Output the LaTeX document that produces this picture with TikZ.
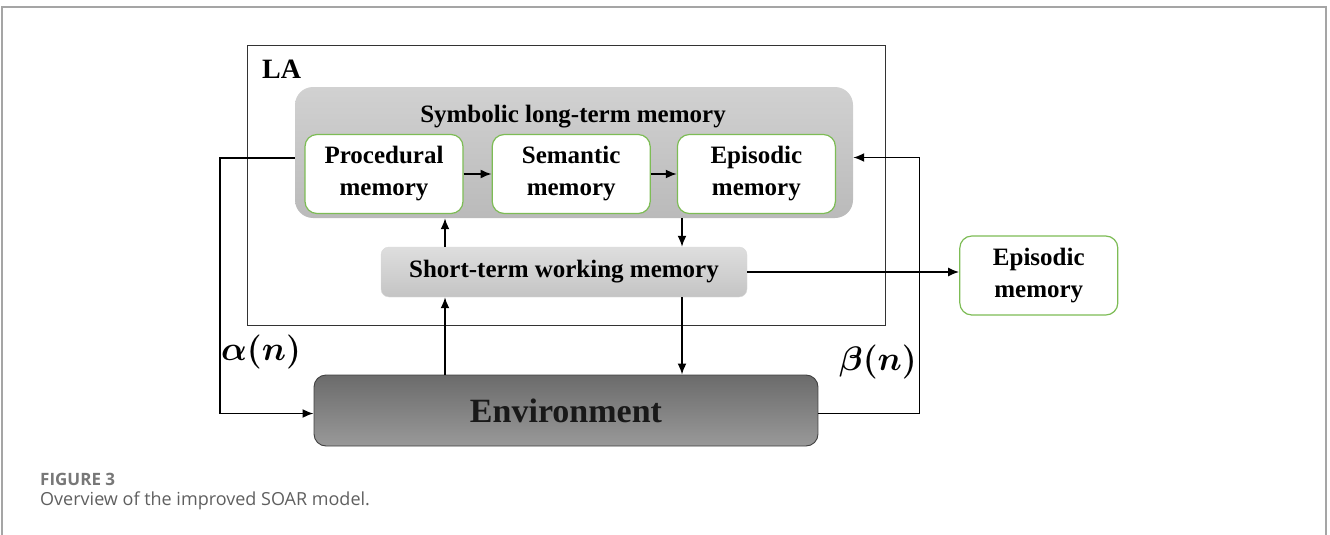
\RequirePackage{fix-cm}
\documentclass[tikz,border=0pt]{standalone}
\usepackage{amsmath,bm}
\usepackage{fontspec}
\setmainfont{Liberation Serif}
\newfontfamily\captionfont{Open Sans}
\usepackage{xcolor}
\usetikzlibrary{positioning, arrows.meta}

\definecolor{boxgreen}{RGB}{125,188,85}
\definecolor{framegray}{RGB}{165,165,165}
\definecolor{captiongray}{RGB}{95,95,95}

\begin{document}
\begin{tikzpicture}[x=1pt, y=-1pt]
            % Block styles
            \tikzstyle{mem} = [rectangle, rounded corners=12pt, draw=boxgreen, line width=1.2pt, fill=white, align=center, minimum width=158pt, minimum height=79pt, font=\fontsize{25}{32}\selectfont\bfseries]
            \tikzstyle{store} = [rectangle, rounded corners=18pt, top color=black!18, bottom color=black!27, minimum width=558pt, minimum height=131pt]
            \tikzstyle{wm} = [rectangle, rounded corners=8pt, draw=black!15, top color=black!13, bottom color=black!23, minimum width=366pt, minimum height=50pt, font=\fontsize{25}{28}\selectfont\bfseries]
            \tikzstyle{env_block} = [rectangle, rounded corners=12pt, draw=black!75, line width=0.9pt, top color=black!58, bottom color=black!40, minimum width=504pt, minimum height=71pt, font=\fontsize{34}{40}\selectfont\bfseries, text=black!90]
            \tikzstyle{line} = [draw, line width=1.8pt, -{Latex[length=11pt,width=9pt]}]
            \useasboundingbox (0,0) rectangle (1330,535);
            % Page frame
            \draw[framegray, line width=1.2pt] (2,535) -- (2,7) -- (1326,7) -- (1326,535);
            % LA frame
            \node[draw=black!80, line width=0.9pt, minimum width=638pt, minimum height=280pt, anchor=north west] (la) at (247,45) {};
            \node[anchor=north west, font=\fontsize{28}{30}\selectfont\bfseries, inner sep=0pt] (la_label) at (262,60) {LA};
            % Long-term memory
            \node[store] (ltm) at (574,152.5) {};
            \node[font=\fontsize{25}{28}\selectfont\bfseries] (ltm_title) at (573,117) {Symbolic long-term memory};
            \node[mem] (proc) at (384,174) {Procedural\\memory};
            \node[mem, right=28pt of proc] (sem) {Semantic\\memory};
            \node[mem, right=26pt of sem] (epi) {Episodic\\memory};
            % Working memory and outputs
            \node[wm] (stwm) at (564,272) {Short-term working memory};
            \node[mem, right=212pt of stwm, yshift=-3.5pt] (epi_ext) {Episodic\\memory};
            \node[env_block] (env) at (566,410.5) {Environment};
            \coordinate (up_x) at (445,0);
            \coordinate (down_x) at (682,0);
            % Connections
            \draw[line] (proc) -- (sem);
            \draw[line] (sem) -- (epi);
            \draw[line] (stwm.north -| up_x) -- (ltm.south -| up_x);
            \draw[line] (ltm.south -| down_x) -- (stwm.north -| down_x);
            \draw[line] (env.north -| up_x) -- (stwm.south -| up_x);
            \draw[line] (stwm.south -| down_x) -- (env.north -| down_x);
            \draw[line] (stwm.east) -- (stwm.east -| epi_ext.west);

            \draw[line] ([yshift=-5.5pt]ltm.west) -- ++(-75,0) coordinate (alpha_turn) |- ([yshift=-3pt]env.west);
            \draw[line] ([yshift=-3pt]env.east) -- ++(101,0) coordinate (beta_turn) |- ([yshift=-5pt]ltm.east);
            \node[font=\fontsize{34}{36}\selectfont] (alpha) at (261,352) {$\bm{\alpha(n)}$};
            \node[font=\fontsize{34}{36}\selectfont] (beta) at (878,362) {$\bm{\beta(n)}$};
            % Caption
            \node[anchor=west, inner sep=0pt, font=\captionfont\bfseries\fontsize{17}{19}\selectfont, text=captiongray!85] (fig_no) at (40,479) {FIGURE 3};
            \node[anchor=west, inner sep=0pt, font=\captionfont\fontsize{18}{20}\selectfont, text=captiongray] (fig_caption) at (40,501) {Overview of the improved SOAR model.};
        \end{tikzpicture}
\end{document}
